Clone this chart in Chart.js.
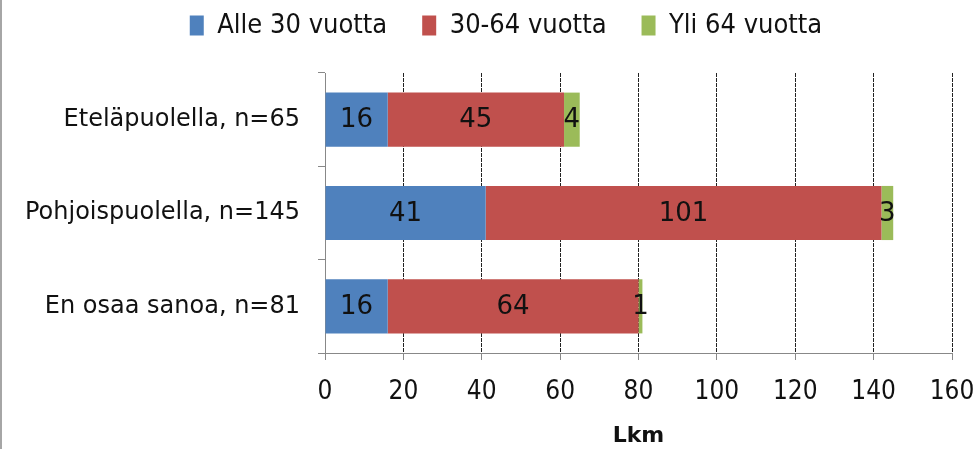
<!DOCTYPE html>
<html lang="fi">
<head>
<meta charset="UTF-8">
<title>Lkm</title>
<script src="https://cdn.jsdelivr.net/npm/chart.js"></script>
<style>
    html, body { margin: 0; padding: 0; background: #ffffff; }
    .wrap {
        width: 977px;
        height: 449px;
        box-sizing: border-box;
        border-left: 2px solid #a6a6a6;
        position: relative;
    }
</style>
</head>
<body>
<div class="wrap">
    <canvas id="chart"></canvas>
</div>
<script>
// Kategoriat ja sarjat
const categories = ['Eteläpuolella, n=65', 'Pohjoispuolella, n=145', 'En osaa sanoa, n=81'];
const seriesNames = ['Alle 30 vuotta', '30-64 vuotta', 'Yli 64 vuotta'];
const under30 = [16, 41, 16];
const age30to64 = [45, 101, 64];
const over64 = [4, 3, 1];
const xTicks = [0, 20, 40, 60, 80, 100, 120, 140, 160];
const colors = ['#4f81bd', '#c0504d', '#9bbb59'];

const wideFont = "'DejaVu Sans', 'Open Sans', sans-serif";
const narrowFont = "'Liberation Sans Narrow', 'DejaVu Sans Condensed', sans-serif";

// Arvot palkkien keskelle
const valueLabels = {
    id: 'valueLabels',
    afterDatasetsDraw(chart) {
        const ctx = chart.ctx;
        ctx.save();
        ctx.font = "26px " + wideFont;
        ctx.fillStyle = '#111111';
        ctx.textAlign = 'center';
        ctx.textBaseline = 'middle';
        chart.data.datasets.forEach((ds, i) => {
            const meta = chart.getDatasetMeta(i);
            meta.data.forEach((bar, j) => {
                const p = bar.getCenterPoint();
                ctx.fillText(String(ds.data[j]), p.x, p.y + 1);
            });
        });
        ctx.restore();
    }
};

// Selitteen paikka: lisätilaa alle ja siirto oikealle
const legendGap = {
    id: 'legendGap',
    beforeInit(chart) {
        const legend = chart.legend;
        if (!legend) return;
        const fit = legend.fit;
        legend.fit = function () {
            fit.call(this);
            this.height += 24;
        };
    },
    afterLayout(chart) {
        const legend = chart.legend;
        if (!legend) return;
        legend.left += 29;
        legend.right += 29;
    }
};

new Chart(document.getElementById('chart'), {
    type: 'bar',
    data: {
        labels: categories,
        datasets: [
            { label: seriesNames[0], data: under30, backgroundColor: colors[0] },
            { label: seriesNames[1], data: age30to64, backgroundColor: colors[1] },
            { label: seriesNames[2], data: over64, backgroundColor: colors[2] }
        ]
    },
    options: {
        indexAxis: 'y',
        responsive: true,
        maintainAspectRatio: false,
        animation: false,
        datasets: {
            bar: { barPercentage: 0.58, categoryPercentage: 1 }
        },
        layout: { padding: { top: -23, right: 25, bottom: 0, left: 0 } },
        plugins: {
            tooltip: { enabled: false },
            legend: {
                position: 'top',
                labels: {
                    font: { family: narrowFont, size: 27 },
                    color: '#111111',
                    boxWidth: 14,
                    boxHeight: 20,
                    padding: 35
                }
            }
        },
        scales: {
            x: {
                stacked: true,
                min: 0,
                max: 160,
                afterBuildTicks(scale) {
                    scale.ticks = xTicks.map(v => ({ value: v }));
                },
                afterFit(scale) { scale.height = 96; },
                ticks: {
                    font: { family: narrowFont, size: 26, lineHeight: 2.4 },
                    color: '#111111',
                    padding: 1
                },
                grid: {
                    color: '#222222',
                    lineWidth: 1,
                    tickLength: 7,
                    tickColor: '#888888',
                    tickBorderDash: []
                },
                border: { color: '#888888', width: 1, dash: [4, 1] },
                title: {
                    display: true,
                    text: 'Lkm',
                    font: { family: wideFont, size: 22, weight: 'bold' },
                    color: '#111111',
                    padding: { top: 0, bottom: 0 }
                }
            },
            y: {
                stacked: true,
                afterFit(scale) { scale.width = 323; },
                ticks: {
                    font: { family: wideFont, size: 24 },
                    color: '#111111',
                    padding: 18
                },
                grid: {
                    offset: true,
                    drawOnChartArea: false,
                    tickLength: 7,
                    color: '#888888'
                },
                border: { color: '#888888', width: 1 }
            }
        }
    },
    plugins: [valueLabels, legendGap]
});
</script>
</body>
</html>
